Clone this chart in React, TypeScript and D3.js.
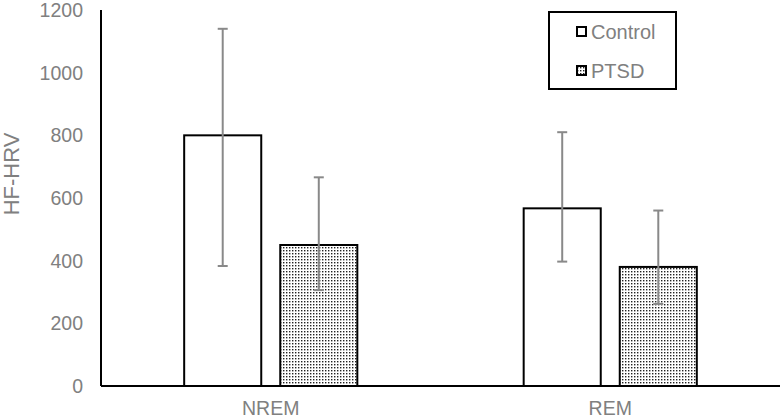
import React from "react";
import * as d3 from "d3";

const categories = ["NREM", "REM"];
const seriesNames = ["Control", "PTSD"];
const controlValues = [800, 567];
const ptsdValues = [450, 380];
const controlUpper = [1140, 810];
const controlLower = [383, 397];
const ptsdUpper = [666, 560];
const ptsdLower = [306, 262];
const yTicks = [0, 200, 400, 600, 800, 1000, 1200];

const W = 780;
const H = 419;
const left = 101;
const right = 780;
const top = 10;
const bottom = 386;

export default function App() {
  const x = d3.scaleBand<string>().domain(categories).range([left, right]);
  const y = d3.scaleLinear().domain([0, 1200]).range([bottom, top]);
  const bw = x.bandwidth();
  const barW = bw * 0.227;
  const gap = bw * 0.056;
  const series = [
    { name: seriesNames[0], vals: controlValues, up: controlUpper, lo: controlLower, fill: "#ffffff" },
    { name: seriesNames[1], vals: ptsdValues, up: ptsdUpper, lo: ptsdLower, fill: "url(#dots)" },
  ];
  const textColor = "#808080";
  const font = "Liberation Sans, Arial, sans-serif";
  return (
    <svg width={W} height={H} style={{ position: "absolute", left: 0, top: 0, background: "#fff" }}>
      <defs>
        <pattern id="dots" width={3} height={3} patternUnits="userSpaceOnUse">
          <rect width={3} height={3} fill="#fff" />
          <rect x={1} y={1} width={1.4} height={1.4} fill="#222" />
        </pattern>
      </defs>
      <rect width={W} height={H} fill="#fff" />
      {yTicks.map((t) => (
        <text key={t} x={83} y={y(t)} dy="0.36em" textAnchor="end" fontFamily={font} fontSize={19.5} fill={textColor}>
          {t}
        </text>
      ))}
      <text
        transform={`translate(19,174) rotate(-90)`}
        textAnchor="middle"
        fontFamily={font}
        fontSize={22}
        fill={textColor}
      >
        HF-HRV
      </text>
      {categories.map((c, ci) => {
        const cx = (x(c) as number) + bw / 2;
        return (
          <g key={c}>
            {series.map((s, si) => {
              const x0 = si === 0 ? cx - gap / 2 - barW : cx + gap / 2;
              const mx = x0 + barW / 2;
              return (
                <g key={s.name}>
                  <rect
                    x={x0}
                    y={y(s.vals[ci])}
                    width={barW}
                    height={bottom - y(s.vals[ci])}
                    fill={s.fill}
                    stroke="#000"
                    strokeWidth={2}
                  />
                  <line x1={mx} x2={mx} y1={y(s.up[ci])} y2={y(s.lo[ci])} stroke="#898989" strokeWidth={2} />
                  <line x1={mx - 5} x2={mx + 5} y1={y(s.up[ci])} y2={y(s.up[ci])} stroke="#898989" strokeWidth={2} />
                  <line x1={mx - 5} x2={mx + 5} y1={y(s.lo[ci])} y2={y(s.lo[ci])} stroke="#898989" strokeWidth={2} />
                </g>
              );
            })}
            <text x={cx} y={415} textAnchor="middle" fontFamily={font} fontSize={19.5} fill={textColor}>
              {c}
            </text>
          </g>
        );
      })}
      <line x1={left} x2={left} y1={top} y2={bottom} stroke="#000" strokeWidth={2} />
      <line x1={left} x2={right} y1={bottom} y2={bottom} stroke="#000" strokeWidth={2} />
      <rect x={549} y={12} width={127} height={77} fill="#fff" stroke="#000" strokeWidth={2} />
      {series.map((s, i) => (
        <g key={s.name}>
          <rect x={577} y={27 + i * 39} width={9} height={9} fill={s.fill} stroke="#000" strokeWidth={2} />
          <text x={591} y={32 + i * 39} dy="0.36em" fontFamily={font} fontSize={20} fill={textColor}>
            {s.name}
          </text>
        </g>
      ))}
    </svg>
  );
}
